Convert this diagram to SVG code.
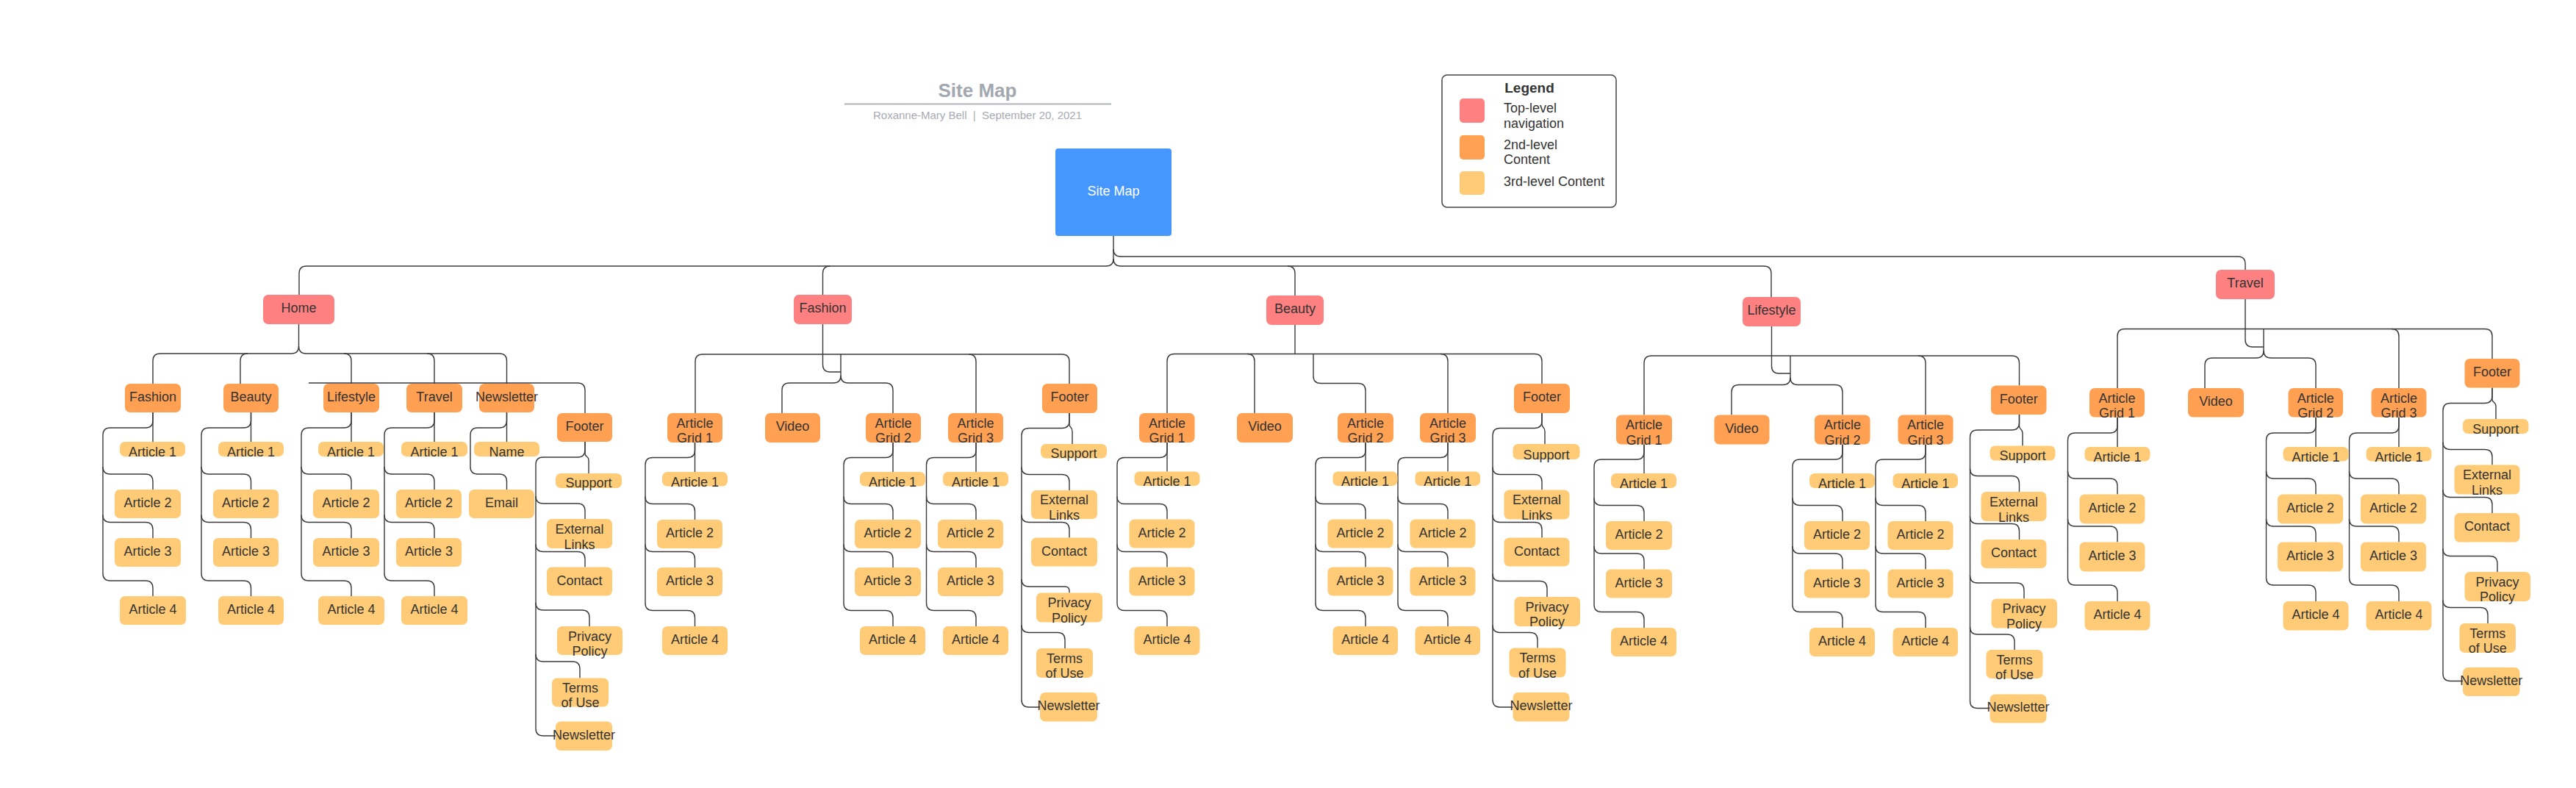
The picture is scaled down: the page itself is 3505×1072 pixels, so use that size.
<svg xmlns="http://www.w3.org/2000/svg" width="3505" height="1072" viewBox="0 0 3505 1072">
<style>
.c{fill:none;stroke:#3a3a3a;stroke-width:1.4}
.t{font-family:"Liberation Sans",Arial,sans-serif;font-size:18px;fill:#333333;text-anchor:middle}
.n0{fill:#4597fe}
.n1{fill:#ff8080}
.n2{fill:#ffa053}
.n3{fill:#ffcb77}
</style>
<rect x="0" y="0" width="3505" height="1072" fill="#ffffff"/>
<g id="title">
<text x="1330" y="132" style="font-family:'Liberation Sans',Arial,sans-serif;font-size:26px;font-weight:bold;fill:#a3a7af;text-anchor:middle">Site Map</text>
<line x1="1149" y1="141.5" x2="1512" y2="141.5" stroke="#b0b3bb" stroke-width="2"/>
<text x="1330" y="162" xml:space="preserve" style="font-family:'Liberation Sans',Arial,sans-serif;font-size:15px;fill:#a7aab2;text-anchor:middle">Roxanne-Mary Bell  |  September 20, 2021</text>
</g>
<g id="legend">
<rect x="1962" y="102" width="237" height="180" rx="7" fill="#ffffff" stroke="#444444" stroke-width="1.5"/>
<text x="2081" y="126" style="font-family:'Liberation Sans',Arial,sans-serif;font-size:19px;font-weight:bold;fill:#333333;text-anchor:middle">Legend</text>
<rect class="n1" x="1986" y="134" width="34" height="33" rx="5"/>
<rect class="n2" x="1986" y="184" width="34" height="33" rx="5"/>
<rect class="n3" x="1986" y="233" width="34" height="32" rx="5"/>
<text class="t" x="2046" y="153" style="text-anchor:start">Top-level</text>
<text class="t" x="2046" y="174" style="text-anchor:start">navigation</text>
<text class="t" x="2046" y="202.5" style="text-anchor:start">2nd-level</text>
<text class="t" x="2046" y="223" style="text-anchor:start">Content</text>
<text class="t" x="2046" y="252.5" style="text-anchor:start">3rd-level Content</text>
</g>
<g id="connectors">
<path class="c" d="M1515,321 V339 Q1515,349 1525,349 H3045 Q3055,349 3055,359 V367"/>
<path class="c" d="M1515,339 V352 Q1515,362 1505,362 H417 Q407,362 407,372 V401"/>
<path class="c" d="M1515,352 Q1515,362 1525,362 H2400 Q2410,362 2410,372 V404"/>
<path class="c" d="M1129.5,362 Q1119.5,362 1119.5,372 V401"/>
<path class="c" d="M1752,362 Q1762,362 1762,372 V402"/>
<path class="c" d="M406.5,441 V471 Q406.5,481 396.5,481 H218 Q208,481 208,491 V522"/>
<path class="c" d="M337,481 Q327,481 327,491 V522"/>
<path class="c" d="M406.5,471 Q406.5,481 416.5,481 H679.5 Q689.5,481 689.5,491 V522"/>
<path class="c" d="M468,481 Q478,481 478,491 V522"/>
<path class="c" d="M581,481 Q591,481 591,491 V522"/>
<path class="c" d="M420,521 H786 Q796,521 796,531 V562"/>
<path class="c" d="M208,561 V601"/>
<path class="c" d="M208,561 V572 Q208,582 198,582 H150 Q140,582 140,592 V780 Q140,790 150,790 H198 Q208,790 208,800 V811"/>
<path class="c" d="M140,635 Q140,645 150,645 H198 Q208,645 208,655 V666"/>
<path class="c" d="M140,700.5 Q140,710.5 150,710.5 H198 Q208,710.5 208,720.5 V732"/>
<path class="c" d="M341.5,561 V601"/>
<path class="c" d="M341.5,561 V572 Q341.5,582 331.5,582 H284 Q274,582 274,592 V780 Q274,790 284,790 H331.5 Q341.5,790 341.5,800 V811"/>
<path class="c" d="M274,635 Q274,645 284,645 H331.5 Q341.5,645 341.5,655 V666"/>
<path class="c" d="M274,700.5 Q274,710.5 284,710.5 H331.5 Q341.5,710.5 341.5,720.5 V732"/>
<path class="c" d="M478,561 V601"/>
<path class="c" d="M478,561 V572 Q478,582 468,582 H420 Q410,582 410,592 V780 Q410,790 420,790 H468 Q478,790 478,800 V811"/>
<path class="c" d="M410,635 Q410,645 420,645 H468 Q478,645 478,655 V666"/>
<path class="c" d="M410,700.5 Q410,710.5 420,710.5 H468 Q478,710.5 478,720.5 V732"/>
<path class="c" d="M591,561 V601"/>
<path class="c" d="M591,561 V572 Q591,582 581,582 H533 Q523,582 523,592 V780 Q523,790 533,790 H581 Q591,790 591,800 V811"/>
<path class="c" d="M523,635 Q523,645 533,645 H581 Q591,645 591,655 V666"/>
<path class="c" d="M523,700.5 Q523,710.5 533,710.5 H581 Q591,710.5 591,720.5 V732"/>
<path class="c" d="M689.5,561 V601"/>
<path class="c" d="M689.5,561 V572 Q689.5,582 679.5,582 H650 Q640,582 640,592 V635 Q640,645 650,645 H679.5 Q689.5,645 689.5,655 V666"/>
<path class="c" d="M796,601 V617 C796,622 801,620 801,626 V644"/>
<path class="c" d="M796,601 V612 Q796,622 786,622 H739 Q729,622 729,632 V991 Q729,1001 739,1001 H756"/>
<path class="c" d="M729,675 Q729,685 739,685 H786 Q796,685 796,695 V706"/>
<path class="c" d="M729,740.5 Q729,750.5 739,750.5 H786 Q796,750.5 796,760.5 V771.5"/>
<path class="c" d="M729,820 Q729,830 739,830 H792 Q802,830 802,840 V852"/>
<path class="c" d="M729,890 Q729,900 739,900 H779 Q789,900 789,910 V922.5"/>
<path class="c" d="M1119.5,441 V496 Q1119.5,506 1129.5,506 H1144"/>
<path class="c" d="M1144,482 V511 Q1144,521 1134,521 H1074 Q1064,521 1064,531 V562"/>
<path class="c" d="M1144,511 Q1144,521 1154,521 H1205 Q1215,521 1215,531 V562"/>
<path class="c" d="M946,562 V492 Q946,482 956,482 H1445 Q1455,482 1455,492 V522"/>
<path class="c" d="M1318,482 Q1328,482 1328,492 V562"/>
<path class="c" d="M945.5,602 V642"/>
<path class="c" d="M945.5,602 V612.5 Q945.5,622.5 935.5,622.5 H888 Q878,622.5 878,632.5 V820.5 Q878,830.5 888,830.5 H935.5 Q945.5,830.5 945.5,840.5 V852"/>
<path class="c" d="M878,675.5 Q878,685.5 888,685.5 H935.5 Q945.5,685.5 945.5,695.5 V707"/>
<path class="c" d="M878,740.5 Q878,750.5 888,750.5 H935.5 Q945.5,750.5 945.5,760.5 V772"/>
<path class="c" d="M1215,602 V642"/>
<path class="c" d="M1215,602 V612.5 Q1215,622.5 1205,622.5 H1158 Q1148,622.5 1148,632.5 V820.5 Q1148,830.5 1158,830.5 H1205 Q1215,830.5 1215,840.5 V852"/>
<path class="c" d="M1148,675.5 Q1148,685.5 1158,685.5 H1205 Q1215,685.5 1215,695.5 V707"/>
<path class="c" d="M1148,740.5 Q1148,750.5 1158,750.5 H1205 Q1215,750.5 1215,760.5 V772"/>
<path class="c" d="M1328,602 V642"/>
<path class="c" d="M1328,602 V612.5 Q1328,622.5 1318,622.5 H1270.5 Q1260.5,622.5 1260.5,632.5 V820.5 Q1260.5,830.5 1270.5,830.5 H1318 Q1328,830.5 1328,840.5 V852"/>
<path class="c" d="M1260.5,675.5 Q1260.5,685.5 1270.5,685.5 H1318 Q1328,685.5 1328,695.5 V707"/>
<path class="c" d="M1260.5,740.5 Q1260.5,750.5 1270.5,750.5 H1318 Q1328,750.5 1328,760.5 V772"/>
<path class="c" d="M1455,562 V577 C1455,582.5 1459,580 1459,587 V604"/>
<path class="c" d="M1455,562 V572.5 Q1455,582.5 1445,582.5 H1400 Q1390,582.5 1390,592.5 V952 Q1390,962 1400,962 H1415"/>
<path class="c" d="M1390,635.5 Q1390,645.5 1400,645.5 H1445 Q1455,645.5 1455,655.5 V667"/>
<path class="c" d="M1390,700.5 Q1390,710.5 1400,710.5 H1445 Q1455,710.5 1455,720.5 V731.5"/>
<path class="c" d="M1390,788 Q1390,798 1400,798 H1449 Q1455,798 1455,804 V806.5"/>
<path class="c" d="M1390,850.5 Q1390,860.5 1400,860.5 H1439 Q1449,860.5 1449,870.5 V882"/>
<path class="c" d="M1762,442 V481.5"/>
<path class="c" d="M1588,562 V491.5 Q1588,481.5 1598,481.5 H2088 Q2098,481.5 2098,491.5 V522"/>
<path class="c" d="M1697,481.5 Q1707,481.5 1707,491.5 V562"/>
<path class="c" d="M1787,481.5 V511.5 Q1787,521.5 1797,521.5 H1848 Q1858,521.5 1858,531.5 V562"/>
<path class="c" d="M1960,481.5 Q1970,481.5 1970,491.5 V562"/>
<path class="c" d="M1588,602 V641.5"/>
<path class="c" d="M1588,602 V612.5 Q1588,622.5 1578,622.5 H1530 Q1520,622.5 1520,632.5 V820.5 Q1520,830.5 1530,830.5 H1578 Q1588,830.5 1588,840.5 V852"/>
<path class="c" d="M1520,675.5 Q1520,685.5 1530,685.5 H1578 Q1588,685.5 1588,695.5 V706.5"/>
<path class="c" d="M1520,740.5 Q1520,750.5 1530,750.5 H1578 Q1588,750.5 1588,760.5 V771.5"/>
<path class="c" d="M1858,602 V641.5"/>
<path class="c" d="M1858,602 V612.5 Q1858,622.5 1848,622.5 H1800 Q1790,622.5 1790,632.5 V820.5 Q1790,830.5 1800,830.5 H1848 Q1858,830.5 1858,840.5 V852"/>
<path class="c" d="M1790,675.5 Q1790,685.5 1800,685.5 H1848 Q1858,685.5 1858,695.5 V706.5"/>
<path class="c" d="M1790,740.5 Q1790,750.5 1800,750.5 H1848 Q1858,750.5 1858,760.5 V771.5"/>
<path class="c" d="M1970,602 V641.5"/>
<path class="c" d="M1970,602 V612.5 Q1970,622.5 1960,622.5 H1912 Q1902,622.5 1902,632.5 V820.5 Q1902,830.5 1912,830.5 H1960 Q1970,830.5 1970,840.5 V852"/>
<path class="c" d="M1902,675.5 Q1902,685.5 1912,685.5 H1960 Q1970,685.5 1970,695.5 V706.5"/>
<path class="c" d="M1902,740.5 Q1902,750.5 1912,750.5 H1960 Q1970,750.5 1970,760.5 V771.5"/>
<path class="c" d="M2098,562 V577 C2098,582.5 2102,580 2102,587 V604"/>
<path class="c" d="M2098,562 V572.5 Q2098,582.5 2088,582.5 H2041 Q2031,582.5 2031,592.5 V952 Q2031,962 2041,962 H2058.5"/>
<path class="c" d="M2031,635.5 Q2031,645.5 2041,645.5 H2088 Q2098,645.5 2098,655.5 V666.5"/>
<path class="c" d="M2031,700.5 Q2031,710.5 2041,710.5 H2088 Q2098,710.5 2098,720.5 V731.5"/>
<path class="c" d="M2031,780.5 Q2031,790.5 2041,790.5 H2095 Q2105,790.5 2105,800.5 V812"/>
<path class="c" d="M2031,850.5 Q2031,860.5 2041,860.5 H2082 Q2092,860.5 2092,870.5 V881.5"/>
<path class="c" d="M2410.5,444 V498 Q2410.5,508 2420.5,508 H2436"/>
<path class="c" d="M2237,564.5 V494 Q2237,484 2247,484 H2737.5 Q2747.5,484 2747.5,494 V524.5"/>
<path class="c" d="M2436,484 V513.5 Q2436,523.5 2426,523.5 H2366 Q2356,523.5 2356,533.5 V564.5"/>
<path class="c" d="M2436,513.5 Q2436,523.5 2446,523.5 H2497 Q2507,523.5 2507,533.5 V564.5"/>
<path class="c" d="M2610,484 Q2620,484 2620,494 V564.5"/>
<path class="c" d="M2237,604.5 V644"/>
<path class="c" d="M2237,604.5 V615 Q2237,625 2227,625 H2179 Q2169,625 2169,635 V822.5 Q2169,832.5 2179,832.5 H2227 Q2237,832.5 2237,842.5 V854"/>
<path class="c" d="M2169,677.5 Q2169,687.5 2179,687.5 H2227 Q2237,687.5 2237,697.5 V709"/>
<path class="c" d="M2169,743 Q2169,753 2179,753 H2227 Q2237,753 2237,763 V774.5"/>
<path class="c" d="M2507,604.5 V644"/>
<path class="c" d="M2507,604.5 V615 Q2507,625 2497,625 H2449 Q2439,625 2439,635 V822.5 Q2439,832.5 2449,832.5 H2497 Q2507,832.5 2507,842.5 V854"/>
<path class="c" d="M2439,677.5 Q2439,687.5 2449,687.5 H2497 Q2507,687.5 2507,697.5 V709"/>
<path class="c" d="M2439,743 Q2439,753 2449,753 H2497 Q2507,753 2507,763 V774.5"/>
<path class="c" d="M2620,604.5 V644"/>
<path class="c" d="M2620,604.5 V615 Q2620,625 2610,625 H2562 Q2552,625 2552,635 V822.5 Q2552,832.5 2562,832.5 H2610 Q2620,832.5 2620,842.5 V854"/>
<path class="c" d="M2552,677.5 Q2552,687.5 2562,687.5 H2610 Q2620,687.5 2620,697.5 V709"/>
<path class="c" d="M2552,743 Q2552,753 2562,753 H2610 Q2620,753 2620,763 V774.5"/>
<path class="c" d="M2747.5,564 V579.5 C2747.5,585 2752,582.5 2752,589.5 V606.5"/>
<path class="c" d="M2747.5,564 V575 Q2747.5,585 2737.5,585 H2690.5 Q2680.5,585 2680.5,595 V953.5 Q2680.5,963.5 2690.5,963.5 H2707.5"/>
<path class="c" d="M2680.5,637.5 Q2680.5,647.5 2690.5,647.5 H2737.5 Q2747.5,647.5 2747.5,657.5 V669"/>
<path class="c" d="M2680.5,702.5 Q2680.5,712.5 2690.5,712.5 H2737.5 Q2747.5,712.5 2747.5,722.5 V734"/>
<path class="c" d="M2680.5,783 Q2680.5,793 2690.5,793 H2744 Q2754,793 2754,803 V814.5"/>
<path class="c" d="M2680.5,853 Q2680.5,863 2690.5,863 H2731 Q2741,863 2741,873 V884"/>
<path class="c" d="M3055,407 V462 Q3055,472 3065,472 H3080"/>
<path class="c" d="M2881,528 V457.5 Q2881,447.5 2891,447.5 H3381 Q3391,447.5 3391,457.5 V488"/>
<path class="c" d="M3080,447.5 V477 Q3080,487 3070,487 H3010 Q3000,487 3000,497 V528"/>
<path class="c" d="M3080,477 Q3080,487 3090,487 H3141 Q3151,487 3151,497 V528"/>
<path class="c" d="M3254,447.5 Q3264,447.5 3264,457.5 V528"/>
<path class="c" d="M2881,567.5 V608"/>
<path class="c" d="M2881,567.5 V579 Q2881,589 2871,589 H2823.5 Q2813.5,589 2813.5,599 V786 Q2813.5,796 2823.5,796 H2871 Q2881,796 2881,806 V818"/>
<path class="c" d="M2813.5,641 Q2813.5,651 2823.5,651 H2871 Q2881,651 2881,661 V672.5"/>
<path class="c" d="M2813.5,706 Q2813.5,716 2823.5,716 H2871 Q2881,716 2881,726 V737.5"/>
<path class="c" d="M3151,567.5 V608"/>
<path class="c" d="M3151,567.5 V579 Q3151,589 3141,589 H3093.5 Q3083.5,589 3083.5,599 V786 Q3083.5,796 3093.5,796 H3141 Q3151,796 3151,806 V818"/>
<path class="c" d="M3083.5,641 Q3083.5,651 3093.5,651 H3141 Q3151,651 3151,661 V672.5"/>
<path class="c" d="M3083.5,706 Q3083.5,716 3093.5,716 H3141 Q3151,716 3151,726 V737.5"/>
<path class="c" d="M3264,567.5 V608"/>
<path class="c" d="M3264,567.5 V579 Q3264,589 3254,589 H3206.5 Q3196.5,589 3196.5,599 V786 Q3196.5,796 3206.5,796 H3254 Q3264,796 3264,806 V818"/>
<path class="c" d="M3196.5,641 Q3196.5,651 3206.5,651 H3254 Q3264,651 3264,661 V672.5"/>
<path class="c" d="M3196.5,706 Q3196.5,716 3206.5,716 H3254 Q3264,716 3264,726 V737.5"/>
<path class="c" d="M3391,527.5 V543 C3391,548.5 3396,546 3396,553 V570"/>
<path class="c" d="M3391,527.5 V538.5 Q3391,548.5 3381,548.5 H3334 Q3324,548.5 3324,558.5 V916.5 Q3324,926.5 3334,926.5 H3351"/>
<path class="c" d="M3324,601.5 Q3324,611.5 3334,611.5 H3381 Q3391,611.5 3391,621.5 V632.5"/>
<path class="c" d="M3324,666.5 Q3324,676.5 3334,676.5 H3381 Q3391,676.5 3391,686.5 V698"/>
<path class="c" d="M3324,746.5 Q3324,756.5 3334,756.5 H3388 Q3398,756.5 3398,766.5 V778"/>
<path class="c" d="M3324,816.5 Q3324,826.5 3334,826.5 H3375 Q3385,826.5 3385,836.5 V848"/>
</g>
<g id="site-map"><rect class="n0" x="1436" y="202" width="158" height="119" rx="4"/><text class="t" x="1515" y="266" style="fill:#ffffff">Site Map</text></g>
<g id="home"><rect class="n1" x="358" y="401" width="97" height="40" rx="7"/><text class="t" x="406.5" y="425">Home</text></g>
<g id="fashion"><rect class="n1" x="1080" y="401" width="79" height="40" rx="7"/><text class="t" x="1119.5" y="425">Fashion</text></g>
<g id="beauty"><rect class="n1" x="1723" y="402" width="78" height="40" rx="7"/><text class="t" x="1762" y="426">Beauty</text></g>
<g id="lifestyle"><rect class="n1" x="2371" y="404" width="79" height="40" rx="7"/><text class="t" x="2410.5" y="428">Lifestyle</text></g>
<g id="travel"><rect class="n1" x="3015" y="367" width="80" height="40" rx="7"/><text class="t" x="3055" y="391">Travel</text></g>
<g id="home-fashion"><rect class="n2" x="170" y="522" width="76" height="39" rx="7"/><text class="t" x="208" y="546">Fashion</text></g>
<g id="home-beauty"><rect class="n2" x="304" y="522" width="75" height="39" rx="7"/><text class="t" x="341.5" y="546">Beauty</text></g>
<g id="home-lifestyle"><rect class="n2" x="440" y="522" width="76" height="39" rx="7"/><text class="t" x="478" y="546">Lifestyle</text></g>
<g id="home-travel"><rect class="n2" x="553" y="522" width="76" height="39" rx="7"/><text class="t" x="591" y="546">Travel</text></g>
<g id="home-newsletter"><rect class="n2" x="652" y="522" width="75" height="39" rx="7"/><text class="t" x="689.5" y="546">Newsletter</text></g>
<g id="home-footer"><rect class="n2" x="758" y="562" width="75" height="39" rx="7"/><text class="t" x="795.5" y="586">Footer</text></g>
<g id="hf-a1"><rect class="n3" x="163" y="601" width="89" height="20" rx="7"/><text class="t" x="207.5" y="621">Article 1</text></g>
<g id="hf-a2"><rect class="n3" x="156" y="666" width="90" height="39" rx="7"/><text class="t" x="201" y="690">Article 2</text></g>
<g id="hf-a3"><rect class="n3" x="156" y="732" width="90" height="39" rx="7"/><text class="t" x="201" y="756">Article 3</text></g>
<g id="hf-a4"><rect class="n3" x="163" y="811" width="90" height="39" rx="7"/><text class="t" x="208" y="835">Article 4</text></g>
<g id="hb-a1"><rect class="n3" x="297" y="601" width="89" height="20" rx="7"/><text class="t" x="341.5" y="621">Article 1</text></g>
<g id="hb-a2"><rect class="n3" x="290" y="666" width="89" height="39" rx="7"/><text class="t" x="334.5" y="690">Article 2</text></g>
<g id="hb-a3"><rect class="n3" x="290" y="732" width="89" height="39" rx="7"/><text class="t" x="334.5" y="756">Article 3</text></g>
<g id="hb-a4"><rect class="n3" x="297" y="811" width="89" height="39" rx="7"/><text class="t" x="341.5" y="835">Article 4</text></g>
<g id="hl-a1"><rect class="n3" x="433" y="601" width="89" height="20" rx="7"/><text class="t" x="477.5" y="621">Article 1</text></g>
<g id="hl-a2"><rect class="n3" x="426" y="666" width="90" height="39" rx="7"/><text class="t" x="471" y="690">Article 2</text></g>
<g id="hl-a3"><rect class="n3" x="426" y="732" width="90" height="39" rx="7"/><text class="t" x="471" y="756">Article 3</text></g>
<g id="hl-a4"><rect class="n3" x="433" y="811" width="90" height="39" rx="7"/><text class="t" x="478" y="835">Article 4</text></g>
<g id="ht-a1"><rect class="n3" x="546" y="601" width="90" height="20" rx="7"/><text class="t" x="591" y="621">Article 1</text></g>
<g id="ht-a2"><rect class="n3" x="539" y="666" width="89" height="39" rx="7"/><text class="t" x="583.5" y="690">Article 2</text></g>
<g id="ht-a3"><rect class="n3" x="539" y="732" width="89" height="39" rx="7"/><text class="t" x="583.5" y="756">Article 3</text></g>
<g id="ht-a4"><rect class="n3" x="546" y="811" width="90" height="39" rx="7"/><text class="t" x="591" y="835">Article 4</text></g>
<g id="hn-name"><rect class="n3" x="645" y="601" width="89" height="20" rx="7"/><text class="t" x="689.5" y="621">Name</text></g>
<g id="hn-email"><rect class="n3" x="638" y="666" width="89" height="39" rx="7"/><text class="t" x="682.5" y="690">Email</text></g>
<g id="hft-support"><rect class="n3" x="756" y="644" width="90" height="20" rx="7"/><text class="t" x="801" y="663">Support</text></g>
<g id="hft-links"><rect class="n3" x="744" y="706" width="89" height="40" rx="7"/><text class="t" x="788.5" y="726">External<tspan x="788.5" dy="21">Links</tspan></text></g>
<g id="hft-contact"><rect class="n3" x="744" y="771.5" width="89" height="39" rx="7"/><text class="t" x="788.5" y="795.5">Contact</text></g>
<g id="hft-privacy"><rect class="n3" x="758" y="852" width="89" height="39" rx="7"/><text class="t" x="802.5" y="871.5">Privacy<tspan x="802.5" dy="20.5">Policy</tspan></text></g>
<g id="hft-terms"><rect class="n3" x="751" y="922.5" width="77" height="39" rx="7"/><text class="t" x="789.5" y="941.5">Terms<tspan x="789.5" dy="20.5">of Use</tspan></text></g>
<g id="hft-newsletter"><rect class="n3" x="756" y="981.5" width="77" height="39.5" rx="7"/><text class="t" x="794.5" y="1005.5">Newsletter</text></g>
<g id="f-ag1"><rect class="n2" x="908" y="562" width="75" height="40" rx="7"/><text class="t" x="945.5" y="581.5">Article<tspan x="945.5" dy="20.5">Grid 1</tspan></text></g>
<g id="f-video"><rect class="n2" x="1041" y="562" width="75" height="40" rx="7"/><text class="t" x="1078.5" y="586">Video</text></g>
<g id="f-ag2"><rect class="n2" x="1178" y="562" width="75" height="40" rx="7"/><text class="t" x="1215.5" y="581.5">Article<tspan x="1215.5" dy="20.5">Grid 2</tspan></text></g>
<g id="f-ag3"><rect class="n2" x="1290" y="562" width="75" height="40" rx="7"/><text class="t" x="1327.5" y="581.5">Article<tspan x="1327.5" dy="20.5">Grid 3</tspan></text></g>
<g id="f-footer"><rect class="n2" x="1418" y="522" width="75" height="40" rx="7"/><text class="t" x="1455.5" y="546">Footer</text></g>
<g id="f1-a1"><rect class="n3" x="901" y="642" width="89" height="19.5" rx="7"/><text class="t" x="945.5" y="661.5">Article 1</text></g>
<g id="f1-a2"><rect class="n3" x="894" y="707" width="89" height="39" rx="7"/><text class="t" x="938.5" y="731">Article 2</text></g>
<g id="f1-a3"><rect class="n3" x="894" y="772" width="89" height="39" rx="7"/><text class="t" x="938.5" y="796">Article 3</text></g>
<g id="f1-a4"><rect class="n3" x="901" y="852" width="89" height="39" rx="7"/><text class="t" x="945.5" y="876">Article 4</text></g>
<g id="f2-a1"><rect class="n3" x="1170" y="642" width="89" height="19.5" rx="7"/><text class="t" x="1214.5" y="661.5">Article 1</text></g>
<g id="f2-a2"><rect class="n3" x="1163" y="707" width="90" height="39" rx="7"/><text class="t" x="1208" y="731">Article 2</text></g>
<g id="f2-a3"><rect class="n3" x="1163" y="772" width="90" height="39" rx="7"/><text class="t" x="1208" y="796">Article 3</text></g>
<g id="f2-a4"><rect class="n3" x="1170" y="852" width="89" height="39" rx="7"/><text class="t" x="1214.5" y="876">Article 4</text></g>
<g id="f3-a1"><rect class="n3" x="1283" y="642" width="89" height="19.5" rx="7"/><text class="t" x="1327.5" y="661.5">Article 1</text></g>
<g id="f3-a2"><rect class="n3" x="1276" y="707" width="89" height="39" rx="7"/><text class="t" x="1320.5" y="731">Article 2</text></g>
<g id="f3-a3"><rect class="n3" x="1276" y="772" width="89" height="39" rx="7"/><text class="t" x="1320.5" y="796">Article 3</text></g>
<g id="f3-a4"><rect class="n3" x="1283" y="852" width="89" height="39" rx="7"/><text class="t" x="1327.5" y="876">Article 4</text></g>
<g id="fft-support"><rect class="n3" x="1416" y="604" width="90" height="19.5" rx="7"/><text class="t" x="1461" y="623">Support</text></g>
<g id="fft-links"><rect class="n3" x="1403" y="667" width="90" height="39" rx="7"/><text class="t" x="1448" y="686">External<tspan x="1448" dy="21">Links</tspan></text></g>
<g id="fft-contact"><rect class="n3" x="1403" y="731.5" width="90" height="39" rx="7"/><text class="t" x="1448" y="755.5">Contact</text></g>
<g id="fft-privacy"><rect class="n3" x="1410" y="806.5" width="90" height="40" rx="7"/><text class="t" x="1455" y="826">Privacy<tspan x="1455" dy="21">Policy</tspan></text></g>
<g id="fft-terms"><rect class="n3" x="1410" y="882" width="77" height="40" rx="7"/><text class="t" x="1448.5" y="901.5">Terms<tspan x="1448.5" dy="20.5">of Use</tspan></text></g>
<g id="fft-newsletter"><rect class="n3" x="1415" y="942" width="78" height="39.5" rx="7"/><text class="t" x="1454" y="965.5">Newsletter</text></g>
<g id="b-ag1"><rect class="n2" x="1550" y="562" width="75.5" height="40" rx="7"/><text class="t" x="1588" y="581.5">Article<tspan x="1588" dy="20.5">Grid 1</tspan></text></g>
<g id="b-video"><rect class="n2" x="1683" y="562" width="76" height="40" rx="7"/><text class="t" x="1721" y="586">Video</text></g>
<g id="b-ag2"><rect class="n2" x="1820" y="562" width="76" height="40" rx="7"/><text class="t" x="1858" y="581.5">Article<tspan x="1858" dy="20.5">Grid 2</tspan></text></g>
<g id="b-ag3"><rect class="n2" x="1932" y="562" width="76" height="40" rx="7"/><text class="t" x="1970" y="581.5">Article<tspan x="1970" dy="20.5">Grid 3</tspan></text></g>
<g id="b-footer"><rect class="n2" x="2060" y="522" width="76" height="40" rx="7"/><text class="t" x="2098" y="546">Footer</text></g>
<g id="b1-a1"><rect class="n3" x="1543.5" y="641.5" width="89" height="19.5" rx="7"/><text class="t" x="1588" y="661">Article 1</text></g>
<g id="b1-a2"><rect class="n3" x="1536.5" y="706.5" width="89" height="39" rx="7"/><text class="t" x="1581" y="730.5">Article 2</text></g>
<g id="b1-a3"><rect class="n3" x="1536.5" y="771.5" width="89" height="39" rx="7"/><text class="t" x="1581" y="795.5">Article 3</text></g>
<g id="b1-a4"><rect class="n3" x="1543.5" y="852" width="89" height="39" rx="7"/><text class="t" x="1588" y="876">Article 4</text></g>
<g id="b2-a1"><rect class="n3" x="1813.5" y="641.5" width="88" height="19.5" rx="7"/><text class="t" x="1857.5" y="661">Article 1</text></g>
<g id="b2-a2"><rect class="n3" x="1806.5" y="706.5" width="89" height="39" rx="7"/><text class="t" x="1851" y="730.5">Article 2</text></g>
<g id="b2-a3"><rect class="n3" x="1806.5" y="771.5" width="89" height="39" rx="7"/><text class="t" x="1851" y="795.5">Article 3</text></g>
<g id="b2-a4"><rect class="n3" x="1813.5" y="852" width="88.5" height="39" rx="7"/><text class="t" x="1857.75" y="876">Article 4</text></g>
<g id="b3-a1"><rect class="n3" x="1925.5" y="641.5" width="88.5" height="19.5" rx="7"/><text class="t" x="1969.75" y="661">Article 1</text></g>
<g id="b3-a2"><rect class="n3" x="1918.5" y="706.5" width="89" height="39" rx="7"/><text class="t" x="1963" y="730.5">Article 2</text></g>
<g id="b3-a3"><rect class="n3" x="1918.5" y="771.5" width="89" height="39" rx="7"/><text class="t" x="1963" y="795.5">Article 3</text></g>
<g id="b3-a4"><rect class="n3" x="1925.5" y="852" width="88.5" height="39" rx="7"/><text class="t" x="1969.75" y="876">Article 4</text></g>
<g id="bft-support"><rect class="n3" x="2058.5" y="604" width="91" height="21" rx="7"/><text class="t" x="2104" y="624.5">Support</text></g>
<g id="bft-links"><rect class="n3" x="2046.5" y="666.5" width="89" height="40" rx="7"/><text class="t" x="2091" y="686">External<tspan x="2091" dy="21">Links</tspan></text></g>
<g id="bft-contact"><rect class="n3" x="2046.5" y="731.5" width="89" height="39" rx="7"/><text class="t" x="2091" y="755.5">Contact</text></g>
<g id="bft-privacy"><rect class="n3" x="2060.5" y="812" width="89.5" height="40" rx="7"/><text class="t" x="2105" y="831.5">Privacy<tspan x="2105" dy="20.5">Policy</tspan></text></g>
<g id="bft-terms"><rect class="n3" x="2053.5" y="881.5" width="77" height="40" rx="7"/><text class="t" x="2092" y="901">Terms<tspan x="2092" dy="21">of Use</tspan></text></g>
<g id="bft-newsletter"><rect class="n3" x="2058.5" y="942" width="77" height="39.5" rx="7"/><text class="t" x="2097" y="965.5">Newsletter</text></g>
<g id="l-ag1"><rect class="n2" x="2199" y="564.5" width="76" height="40" rx="7"/><text class="t" x="2237" y="584">Article<tspan x="2237" dy="20.5">Grid 1</tspan></text></g>
<g id="l-video"><rect class="n2" x="2332.5" y="564.5" width="75" height="40" rx="7"/><text class="t" x="2370" y="588.5">Video</text></g>
<g id="l-ag2"><rect class="n2" x="2469" y="564.5" width="75.5" height="40" rx="7"/><text class="t" x="2507" y="584">Article<tspan x="2507" dy="20.5">Grid 2</tspan></text></g>
<g id="l-ag3"><rect class="n2" x="2582.5" y="564.5" width="75" height="40" rx="7"/><text class="t" x="2620" y="584">Article<tspan x="2620" dy="20.5">Grid 3</tspan></text></g>
<g id="l-footer"><rect class="n2" x="2709" y="524.5" width="75.5" height="39.5" rx="7"/><text class="t" x="2746.75" y="548.5">Footer</text></g>
<g id="l1-a1"><rect class="n3" x="2192" y="644" width="89" height="20" rx="7"/><text class="t" x="2236.5" y="664">Article 1</text></g>
<g id="l1-a2"><rect class="n3" x="2185" y="709" width="90" height="39" rx="7"/><text class="t" x="2230" y="733">Article 2</text></g>
<g id="l1-a3"><rect class="n3" x="2185" y="774.5" width="90" height="39" rx="7"/><text class="t" x="2230" y="798.5">Article 3</text></g>
<g id="l1-a4"><rect class="n3" x="2192" y="854" width="89" height="39" rx="7"/><text class="t" x="2236.5" y="878">Article 4</text></g>
<g id="l2-a1"><rect class="n3" x="2462" y="644" width="89" height="20" rx="7"/><text class="t" x="2506.5" y="664">Article 1</text></g>
<g id="l2-a2"><rect class="n3" x="2455" y="709" width="89" height="39" rx="7"/><text class="t" x="2499.5" y="733">Article 2</text></g>
<g id="l2-a3"><rect class="n3" x="2455" y="774.5" width="89" height="39" rx="7"/><text class="t" x="2499.5" y="798.5">Article 3</text></g>
<g id="l2-a4"><rect class="n3" x="2462" y="854" width="89" height="39" rx="7"/><text class="t" x="2506.5" y="878">Article 4</text></g>
<g id="l3-a1"><rect class="n3" x="2575.5" y="644" width="88.5" height="20" rx="7"/><text class="t" x="2619.75" y="664">Article 1</text></g>
<g id="l3-a2"><rect class="n3" x="2568.5" y="709" width="89" height="39" rx="7"/><text class="t" x="2613" y="733">Article 2</text></g>
<g id="l3-a3"><rect class="n3" x="2568.5" y="774.5" width="89" height="39" rx="7"/><text class="t" x="2613" y="798.5">Article 3</text></g>
<g id="l3-a4"><rect class="n3" x="2575.5" y="854" width="88.5" height="39" rx="7"/><text class="t" x="2619.75" y="878">Article 4</text></g>
<g id="lft-support"><rect class="n3" x="2707.5" y="606.5" width="89" height="20" rx="7"/><text class="t" x="2752" y="626">Support</text></g>
<g id="lft-links"><rect class="n3" x="2695.5" y="669" width="89" height="40" rx="7"/><text class="t" x="2740" y="688.5">External<tspan x="2740" dy="21">Links</tspan></text></g>
<g id="lft-contact"><rect class="n3" x="2695.5" y="734" width="89" height="39" rx="7"/><text class="t" x="2740" y="758">Contact</text></g>
<g id="lft-privacy"><rect class="n3" x="2709.5" y="814.5" width="89.5" height="40" rx="7"/><text class="t" x="2754" y="834">Privacy<tspan x="2754" dy="20.5">Policy</tspan></text></g>
<g id="lft-terms"><rect class="n3" x="2702.5" y="884" width="77" height="39" rx="7"/><text class="t" x="2741" y="903.5">Terms<tspan x="2741" dy="20.5">of Use</tspan></text></g>
<g id="lft-newsletter"><rect class="n3" x="2707.5" y="944.5" width="77" height="39" rx="7"/><text class="t" x="2746" y="968">Newsletter</text></g>
<g id="t-ag1"><rect class="n2" x="2843" y="528" width="75" height="39.5" rx="7"/><text class="t" x="2880.5" y="547.5">Article<tspan x="2880.5" dy="20.5">Grid 1</tspan></text></g>
<g id="t-video"><rect class="n2" x="2977" y="528" width="76" height="39.5" rx="7"/><text class="t" x="3015" y="552">Video</text></g>
<g id="t-ag2"><rect class="n2" x="3113.5" y="528" width="74.5" height="39.5" rx="7"/><text class="t" x="3150.75" y="547.5">Article<tspan x="3150.75" dy="20.5">Grid 2</tspan></text></g>
<g id="t-ag3"><rect class="n2" x="3226.5" y="528" width="75" height="39.5" rx="7"/><text class="t" x="3264" y="547.5">Article<tspan x="3264" dy="20.5">Grid 3</tspan></text></g>
<g id="t-footer"><rect class="n2" x="3353.5" y="488" width="75" height="39.5" rx="7"/><text class="t" x="3391" y="512">Footer</text></g>
<g id="t1-a1"><rect class="n3" x="2836.5" y="608" width="89" height="19.5" rx="7"/><text class="t" x="2881" y="627.5">Article 1</text></g>
<g id="t1-a2"><rect class="n3" x="2829.5" y="672.5" width="89" height="40" rx="7"/><text class="t" x="2874" y="697">Article 2</text></g>
<g id="t1-a3"><rect class="n3" x="2829.5" y="737.5" width="89" height="40" rx="7"/><text class="t" x="2874" y="762">Article 3</text></g>
<g id="t1-a4"><rect class="n3" x="2836.5" y="818" width="89" height="39.5" rx="7"/><text class="t" x="2881" y="842">Article 4</text></g>
<g id="t2-a1"><rect class="n3" x="3106.5" y="608" width="89" height="19.5" rx="7"/><text class="t" x="3151" y="627.5">Article 1</text></g>
<g id="t2-a2"><rect class="n3" x="3099" y="672.5" width="89" height="40" rx="7"/><text class="t" x="3143.5" y="697">Article 2</text></g>
<g id="t2-a3"><rect class="n3" x="3099" y="737.5" width="89" height="40" rx="7"/><text class="t" x="3143.5" y="762">Article 3</text></g>
<g id="t2-a4"><rect class="n3" x="3106.5" y="818" width="89" height="39.5" rx="7"/><text class="t" x="3151" y="842">Article 4</text></g>
<g id="t3-a1"><rect class="n3" x="3219.5" y="608" width="89" height="19.5" rx="7"/><text class="t" x="3264" y="627.5">Article 1</text></g>
<g id="t3-a2"><rect class="n3" x="3212" y="672.5" width="89" height="40" rx="7"/><text class="t" x="3256.5" y="697">Article 2</text></g>
<g id="t3-a3"><rect class="n3" x="3212" y="737.5" width="89" height="40" rx="7"/><text class="t" x="3256.5" y="762">Article 3</text></g>
<g id="t3-a4"><rect class="n3" x="3219.5" y="818" width="89" height="39.5" rx="7"/><text class="t" x="3264" y="842">Article 4</text></g>
<g id="tft-support"><rect class="n3" x="3351" y="570" width="89.5" height="20" rx="7"/><text class="t" x="3395.75" y="590">Support</text></g>
<g id="tft-links"><rect class="n3" x="3339.5" y="632.5" width="89" height="40" rx="7"/><text class="t" x="3384" y="652">External<tspan x="3384" dy="21">Links</tspan></text></g>
<g id="tft-contact"><rect class="n3" x="3339.5" y="698" width="89" height="39.5" rx="7"/><text class="t" x="3384" y="722">Contact</text></g>
<g id="tft-privacy"><rect class="n3" x="3353.5" y="778" width="89.5" height="40" rx="7"/><text class="t" x="3398" y="797.5">Privacy<tspan x="3398" dy="20.5">Policy</tspan></text></g>
<g id="tft-terms"><rect class="n3" x="3346.5" y="848" width="76.5" height="40" rx="7"/><text class="t" x="3384.75" y="867.5">Terms<tspan x="3384.75" dy="20.5">of Use</tspan></text></g>
<g id="tft-newsletter"><rect class="n3" x="3351" y="908" width="77.5" height="39" rx="7"/><text class="t" x="3389.75" y="932">Newsletter</text></g>
</svg>
